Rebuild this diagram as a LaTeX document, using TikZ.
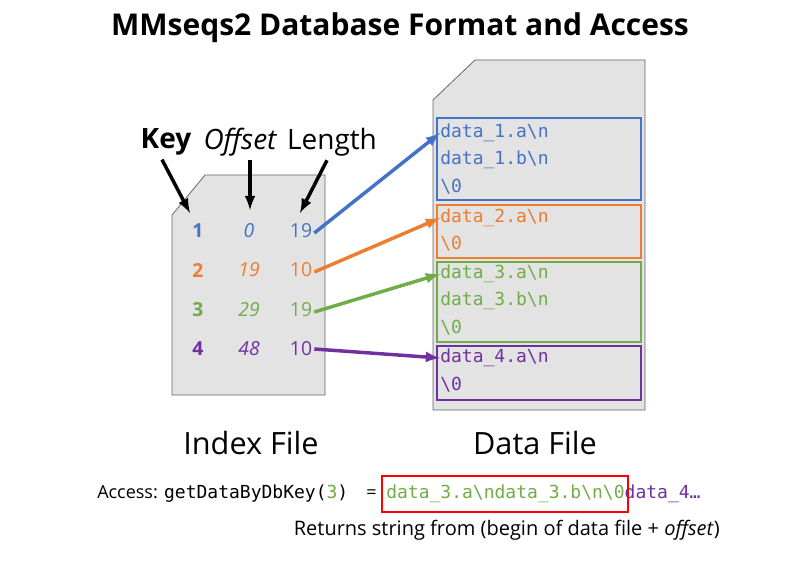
\documentclass[tikz,border=0pt]{standalone}
\usepackage{fontspec}
\setmainfont{Open Sans}
\newfontfamily\mono{DejaVu Sans Mono}
\begin{document}
\definecolor{cb}{HTML}{4472C4}
\definecolor{co}{HTML}{ED7D31}
\definecolor{cg}{HTML}{70AD47}
\definecolor{cp}{HTML}{7030A0}
\definecolor{fileg}{HTML}{E3E3E3}
\begin{tikzpicture}[x=0.75pt,y=-0.75pt,
  file/.style={fill=fileg,draw=gray!80!black,line width=0.6pt},
  dbox/.style={draw,line width=1.3pt},
  dl/.style={anchor=west,font=\mono\fontsize{13.5}{15}\selectfont,inner sep=0},
  ix/.style={font=\fontsize{14.5}{16}\selectfont,inner sep=0},
  hd/.style={font=\fontsize{21}{24}\selectfont,inner sep=0},
  harr/.style={-latex,line width=2.6pt},
  carr/.style={-latex,line width=2.6pt},
  lbl/.style={font=\fontsize{23}{26}\selectfont,inner sep=0}]
\useasboundingbox (0,0) rectangle (800,585);
\node[font=\bfseries\fontsize{22.5}{26}\selectfont] (title) at (400,28) {MMseqs2 Database Format and Access};
% index file
\draw[file] (172,215) -- (205,175) -- (325,175) -- (325,395) -- (172,395) -- cycle;
% data file
\draw[file] (433,100) -- (475,60) -- (645,60) -- (645,410) -- (433,410) -- cycle;
\draw[dbox,cb] (437,118) rectangle (641,200);
\draw[dbox,co] (437,205) rectangle (641,258);
\draw[dbox,cg] (437,262) rectangle (641,342);
\draw[dbox,cp] (437,346) rectangle (641,400);
\node[dl,cb] (b1) at (440,133) {data\_1.a\textbackslash n};
\node[dl,cb] (b2) at (440,160) {data\_1.b\textbackslash n};
\node[dl,cb] (b3) at (440,187) {\textbackslash 0};
\node[dl,co] (o1) at (440,218) {data\_2.a\textbackslash n};
\node[dl,co] (o2) at (440,244) {\textbackslash 0};
\node[dl,cg] (g1) at (440,274) {data\_3.a\textbackslash n};
\node[dl,cg] (g2) at (440,301) {data\_3.b\textbackslash n};
\node[dl,cg] (g3) at (440,328) {\textbackslash 0};
\node[dl,cp] (p1) at (440,358) {data\_4.a\textbackslash n};
\node[dl,cp] (p2) at (440,385) {\textbackslash 0};
% index rows
\node[ix,cb,font=\bfseries\fontsize{14.5}{16}\selectfont] (k1) at (198,231) {1};
\node[ix,cb,font=\itshape\fontsize{14.5}{16}\selectfont] (f1) at (249,231) {0};
\node[ix,cb] (l1) at (301,231) {19};
\node[ix,co,font=\bfseries\fontsize{14.5}{16}\selectfont] (k2) at (198,270) {2};
\node[ix,co,font=\itshape\fontsize{14.5}{16}\selectfont] (f2) at (249,270) {19};
\node[ix,co] (l2) at (301,270) {10};
\node[ix,cg,font=\bfseries\fontsize{14.5}{16}\selectfont] (k3) at (198,310) {3};
\node[ix,cg,font=\itshape\fontsize{14.5}{16}\selectfont] (f3) at (249,310) {29};
\node[ix,cg] (l3) at (301,310) {19};
\node[ix,cp,font=\bfseries\fontsize{14.5}{16}\selectfont] (k4) at (198,349) {4};
\node[ix,cp,font=\itshape\fontsize{14.5}{16}\selectfont] (f4) at (249,349) {48};
\node[ix,cp] (l4) at (301,349) {10};
% header
\node[hd,font=\bfseries\fontsize{21}{24}\selectfont] (hk) at (166,142) {Key};
\node[hd,font=\itshape\fontsize{21}{24}\selectfont] (ho) at (240,142) {Offset};
\node[hd] (hl) at (332,142) {Length};
\coordinate (hka) at (190,213);
\coordinate (hoa) at (250,210);
\coordinate (hla) at (300,213);
\draw[harr] (hk.south) ++(-4,4) -- (hka);
\draw[harr] (250,160) -- (hoa);
\draw[harr] (hl.south) ++(-5,4) -- (hla);
% colored arrows
\draw[carr,cb] (l1.east) ++(2,2) -- (b1.west);
\draw[carr,co] (l2.east) ++(2,2) -- (o1.west);
\draw[carr,cg] (l3.east) ++(2,2) -- (g1.west);
\draw[carr,cp] (l4.east) ++(2,0) -- (p1.west);
% labels
\node[lbl] (il) at (251,443) {Index File};
\node[lbl] (dlb) at (535,443) {Data File};
% access line
\node[anchor=west,inner sep=0,font=\fontsize{13.5}{15}\selectfont] (acc) at (97,494) {Access: {\mono getDataByDbKey(\textcolor{cg}{3})}};
\node[anchor=west,inner sep=0,font=\fontsize{13.5}{15}\selectfont] (eq) at (366,494) {=};
\node[anchor=west,inner sep=0,font=\mono\fontsize{13.5}{15}\selectfont] (res) at (386,494) {\textcolor{cg}{data\_3.a\textbackslash ndata\_3.b\textbackslash n\textbackslash 0}\textcolor{cp}{data\_4…}};
\draw[red,line width=1.5pt] (382,476) rectangle (628,512);
\node[anchor=east,inner sep=0,font=\fontsize{15}{17}\selectfont] (ret) at (720,530) {Returns string from (begin of data file + \textit{offset})};
\end{tikzpicture}
\end{document}
